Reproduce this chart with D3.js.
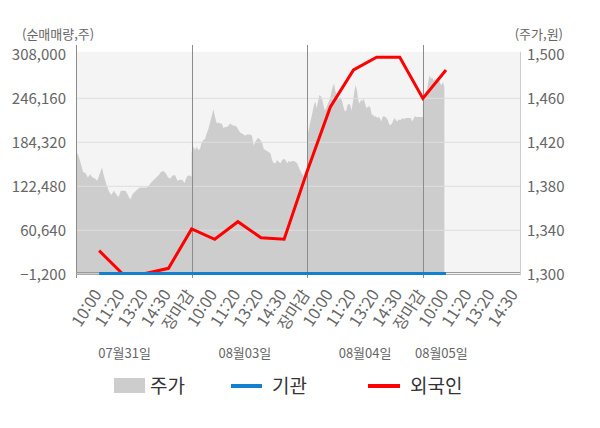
<!DOCTYPE html>
<html lang="ko">
<head>
    <meta charset="UTF-8">
    <meta name="viewport" content="width=device-width, initial-scale=1.0">
    <title>순매매량 / 주가</title>
    <script src="https://d3js.org/d3.v7.min.js"></script>
    <style>
        body {
            margin: 0;
            padding: 0;
            background-color: #fff;
            font-family: "Noto Sans CJK KR", "Noto Sans", sans-serif;
        }
        svg text {
            fill: #666;
        }
        .tick text {
            font-family: "Noto Sans CJK KR", "Noto Sans", sans-serif;
        }
    </style>
</head>
<body>
    <svg id="chart" width="600" height="428"></svg>

    <script>
        // 날짜 (일자별 5칸)
        const days = ['07월31일', '08월03일', '08월04일', '08월05일'];

        // x축 시간 라벨 (1칸 ~ 19칸)
        const timeLabels = [
            '10:00', '11:20', '13:20', '14:30', '장마감',
            '10:00', '11:20', '13:20', '14:30', '장마감',
            '10:00', '11:20', '13:20', '14:30', '장마감',
            '10:00', '11:20', '13:20', '14:30'
        ];

        // 축 눈금
        const volumeTicks = [-1200, 60640, 122480, 184320, 246160, 308000];
        const priceTicks = [1300, 1340, 1380, 1420, 1460, 1500];

        // 주가 (원) - 일자별
        const price0731 = [
            1413, 1408, 1401, 1393, 1392, 1388, 1391, 1388, 1387, 1385,
            1391, 1397, 1388, 1381, 1375, 1372, 1376, 1373, 1370, 1376,
            1376, 1376, 1372, 1368, 1373, 1375, 1377, 1379, 1379, 1379,
            1379, 1381, 1384, 1386, 1388, 1390, 1393, 1394, 1392, 1388,
            1387, 1390, 1390, 1385, 1386, 1386, 1383, 1389, 1390, 1389
        ];
        const price0803 = [
            1411, 1416, 1413, 1416, 1413, 1414, 1420, 1422, 1423, 1428,
            1432, 1438, 1444, 1450, 1443, 1437, 1438, 1437, 1437, 1433,
            1434, 1434, 1435, 1437, 1436, 1435, 1435, 1434, 1431, 1429,
            1428, 1427, 1426, 1427, 1427, 1427, 1426, 1417, 1420, 1423,
            1424, 1422, 1420, 1414, 1413, 1412, 1411, 1410, 1404, 1401,
            1401, 1404, 1402, 1401, 1404, 1405, 1404, 1401, 1403, 1402,
            1403, 1403, 1402, 1401, 1397, 1394, 1391, 1389, 1391, 1393
        ];
        const price0804 = [
            1426, 1431, 1437, 1442, 1448, 1454, 1457, 1451, 1457, 1463,
            1462, 1460, 1454, 1449, 1451, 1454, 1457, 1460, 1466, 1471,
            1473, 1466, 1463, 1458, 1460, 1461, 1457, 1452, 1448, 1449,
            1454, 1455, 1454, 1449, 1457, 1466, 1472, 1467, 1458, 1455,
            1459, 1457, 1460, 1455, 1451, 1452, 1453, 1451, 1445, 1445,
            1443, 1444, 1442, 1443, 1442, 1439, 1443, 1444, 1443, 1442,
            1440, 1436, 1436, 1437, 1440, 1442, 1440, 1439, 1441, 1440,
            1441, 1442, 1441, 1442, 1442, 1442, 1442, 1442, 1439, 1441,
            1444, 1443, 1443, 1443, 1443, 1443, 1443
        ];
        const price0805 = [
            1454, 1461, 1466, 1467, 1475, 1481, 1478, 1479, 1476, 1478,
            1473, 1476, 1478, 1473, 1472, 1475, 1470
        ];
        const pricesByDay = [price0731, price0803, price0804, price0805];
        // 하루 장 전체를 채우는 표본 수 (마지막 날은 장중)
        const sessionSamples = [50, 70, 87, 87];

        // 순매매량 (주) - 1칸 ~ 16칸
        const institution = [0, 0, 0, 0, 0, 0, 0, 0, 0, 0, 0, 0, 0, 0, 0, 0];
        const foreign = [
            32000, 0, 0, 7200, 62500, 48000, 72700, 50200,
            48000, 144000, 234000, 286000, 303800, 303800, 246000, 286000
        ];

        // 배치
        const margin = {left: 76, right: 80, top: 54.3, bottom: 274.3};
        const slotsPerDay = 5;
        const slotMax = 19.2;
        const dateSlot = [2.1, 7.3, 12.5, 15.8];

        const svg = d3.select('#chart');

        const x = d3.scaleLinear()
            .domain([0, slotMax])
            .range([margin.left, 600 - margin.right]);

        const yVol = d3.scaleLinear()
            .domain([volumeTicks[0], volumeTicks[volumeTicks.length - 1]])
            .range([margin.bottom, margin.top]);

        const yPrice = d3.scaleLinear()
            .domain([priceTicks[0], priceTicks[priceTicks.length - 1]])
            .range([margin.bottom, margin.top]);

        // 배경
        svg.append('rect')
            .attr('x', x(0))
            .attr('y', margin.top - 2.5)
            .attr('width', x(slotMax) - x(0))
            .attr('height', margin.bottom - margin.top + 2.5)
            .attr('fill', '#f4f4f4');

        // 주가 영역
        const pricePoints = [];
        pricesByDay.forEach((arr, d) => {
            const step = slotsPerDay / (sessionSamples[d] - 1);
            arr.forEach((p, i) => {
                pricePoints.push({slot: d * slotsPerDay + i * step, price: p});
            });
        });

        const area = d3.area()
            .x(d => x(d.slot))
            .y0(yPrice(priceTicks[0]))
            .y1(d => yPrice(d.price));

        svg.append('path')
            .datum(pricePoints)
            .attr('d', area)
            .attr('fill', '#cdcdcd');

        // 가로 격자
        svg.append('g')
            .selectAll('line')
            .data(volumeTicks.slice(1, -1))
            .enter()
            .append('line')
            .attr('x1', x(0))
            .attr('x2', x(slotMax))
            .attr('y1', d => yVol(d))
            .attr('y2', d => yVol(d))
            .attr('stroke', '#dedede')
            .attr('stroke-width', 1);

        // 일자 구분선
        svg.append('g')
            .selectAll('line')
            .data(d3.range(0, days.length).map(d => d * slotsPerDay))
            .enter()
            .append('line')
            .attr('x1', d => Math.round(x(d)) + 0.5)
            .attr('x2', d => Math.round(x(d)) + 0.5)
            .attr('y1', 45)
            .attr('y2', 278)
            .attr('stroke', '#8c8c8c')
            .attr('stroke-width', 1);

        // 오른쪽 테두리
        svg.append('line')
            .attr('x1', x(slotMax) + 0.5)
            .attr('x2', x(slotMax) + 0.5)
            .attr('y1', margin.top - 2.5)
            .attr('y2', margin.bottom + 1)
            .attr('stroke', '#cccccc');

        // 0 기준선, 아래 축선
        svg.append('line')
            .attr('x1', x(0))
            .attr('x2', x(slotMax))
            .attr('y1', Math.round(yVol(0)) - 0.5)
            .attr('y2', Math.round(yVol(0)) - 0.5)
            .attr('stroke', '#999');
        svg.append('line')
            .attr('x1', x(0))
            .attr('x2', x(slotMax))
            .attr('y1', Math.round(margin.bottom) + 0.5)
            .attr('y2', Math.round(margin.bottom) + 0.5)
            .attr('stroke', '#aaa');

        // 외국인, 기관 선
        const line = d3.line()
            .x((d, i) => x(i + 1))
            .y(d => yVol(d));

        svg.append('path')
            .datum(foreign)
            .attr('d', line)
            .attr('fill', 'none')
            .attr('stroke', '#ff0000')
            .attr('stroke-width', 3);

        svg.append('path')
            .datum(institution)
            .attr('d', line)
            .attr('fill', 'none')
            .attr('stroke', '#137fcf')
            .attr('stroke-width', 3);

        // 왼쪽 축
        const leftAxis = svg.append('g')
            .attr('transform', 'translate(66,0)')
            .call(d3.axisLeft(yVol).tickValues(volumeTicks).tickFormat(d3.format(',')).tickSize(0).tickPadding(0));
        leftAxis.select('.domain').remove();
        leftAxis.selectAll('text')
            .style('font-size', '15px')
            .attr('fill', '#707070');

        // 오른쪽 축
        const rightAxis = svg.append('g')
            .attr('transform', 'translate(527,0)')
            .call(d3.axisRight(yPrice).tickValues(priceTicks).tickFormat(d3.format(',')).tickSize(0).tickPadding(0));
        rightAxis.select('.domain').remove();
        rightAxis.selectAll('text')
            .style('font-size', '15px')
            .attr('fill', '#707070');

        // 아래 축 (시간)
        const bottomAxis = svg.append('g')
            .attr('transform', `translate(0,${margin.bottom})`)
            .call(d3.axisBottom(x).tickValues(d3.range(1, timeLabels.length + 1)).tickFormat(i => timeLabels[i - 1]).tickSize(0));
        bottomAxis.select('.domain').remove();
        bottomAxis.selectAll('text')
            .attr('x', 0)
            .attr('y', 0)
            .attr('dy', '0.35em')
            .attr('transform', 'translate(-2,17) rotate(-57)')
            .style('text-anchor', 'end')
            .style('font-size', '16px')
            .attr('fill', d => {
                if (timeLabels[d - 1] === '장마감') return '#ff0000';
                if (d === 16) return '#333';
                return '#777';
            });

        // 날짜 라벨
        svg.append('g')
            .selectAll('text')
            .data(days)
            .enter()
            .append('text')
            .attr('x', (d, i) => x(dateSlot[i]))
            .attr('y', 358)
            .attr('text-anchor', 'middle')
            .style('font-size', '13px')
            .attr('fill', '#777')
            .text(d => d);

        // 축 제목
        svg.append('text')
            .attr('x', 22)
            .attr('y', 38.5)
            .style('font-size', '13px')
            .text('(순매매량,주)');
        svg.append('text')
            .attr('x', 563)
            .attr('y', 38.5)
            .attr('text-anchor', 'end')
            .style('font-size', '13px')
            .text('(주가,원)');

        // 범례
        const legend = svg.append('g');
        legend.append('rect')
            .attr('x', 114).attr('y', 378)
            .attr('width', 31).attr('height', 15)
            .attr('fill', '#cdcdcd');
        legend.append('text')
            .attr('x', 150).attr('y', 392.5)
            .style('font-size', '19px')
            .style('fill', '#333')
            .text('주가');
        legend.append('line')
            .attr('x1', 231).attr('x2', 262)
            .attr('y1', 386).attr('y2', 386)
            .attr('stroke', '#137fcf')
            .attr('stroke-width', 4);
        legend.append('text')
            .attr('x', 272).attr('y', 392.5)
            .style('font-size', '19px')
            .style('fill', '#333')
            .text('기관');
        legend.append('line')
            .attr('x1', 368).attr('x2', 400)
            .attr('y1', 386).attr('y2', 386)
            .attr('stroke', '#ff0000')
            .attr('stroke-width', 4);
        legend.append('text')
            .attr('x', 410).attr('y', 392.5)
            .style('font-size', '19px')
            .style('fill', '#333')
            .text('외국인');
    </script>
</body>
</html>
